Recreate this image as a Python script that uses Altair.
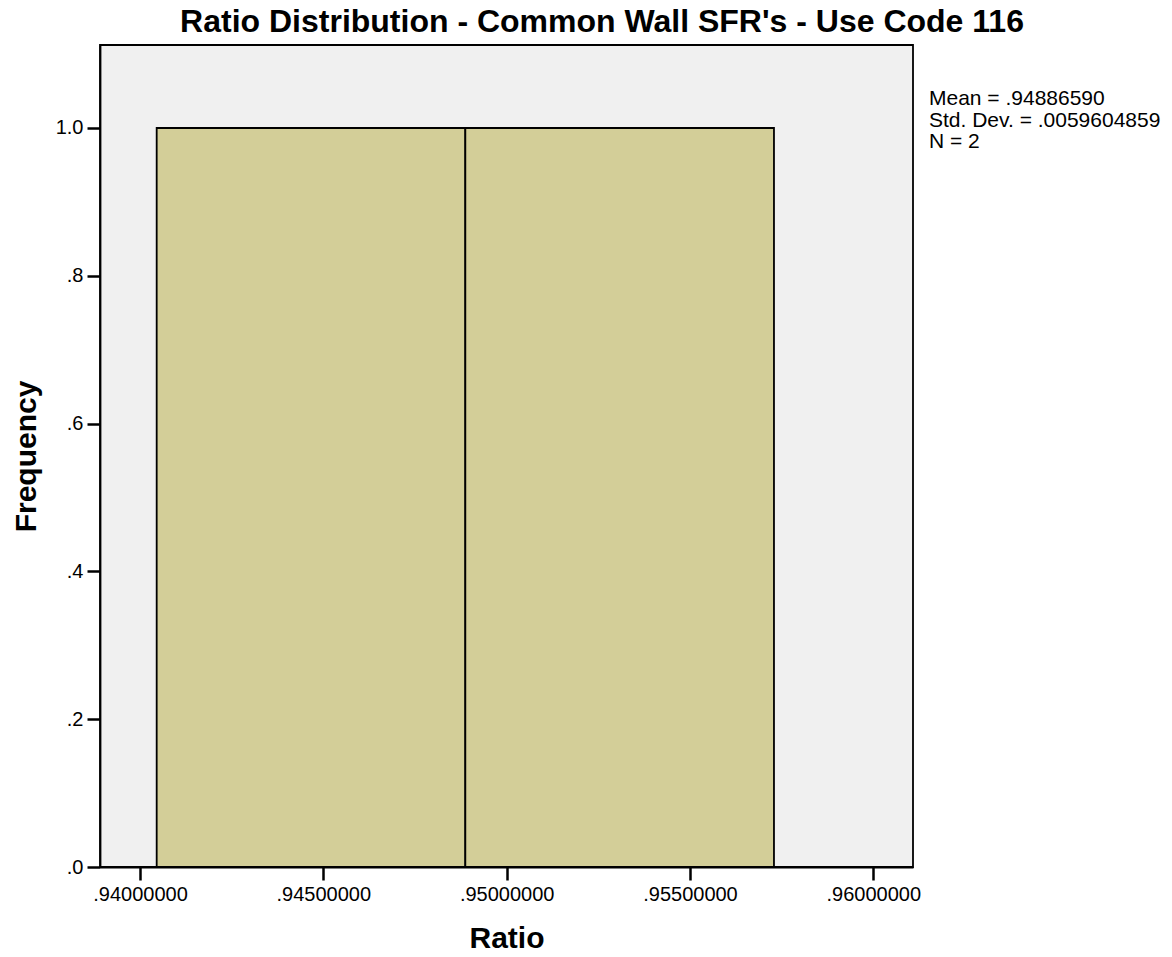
import altair as alt
import pandas as pd

# Data
bin_start = [0.940455, 0.948873]
bin_end = [0.948873, 0.957291]
frequency = [1, 1]

x_ticks = [0.94, 0.945, 0.95, 0.955, 0.96]
y_ticks = [0.0, 0.2, 0.4, 0.6, 0.8, 1.0]
stats_lines = ["Mean = .94886590", "Std. Dev. = .0059604859", "N = 2"]
title_text = "Ratio Distribution - Common Wall SFR's - Use Code 116"

FONT = "Liberation Sans"
W, H = 813, 822

bars_df = pd.DataFrame({"start": bin_start, "end": bin_end, "freq": frequency})

x_scale = alt.Scale(domain=[0.938909, 0.961083], nice=False, zero=False)
y_scale = alt.Scale(domain=[0, 1.1123], nice=False)

bars = alt.Chart(bars_df).mark_rect(
    fill="#D3CE98", stroke="black", strokeWidth=1.8
).encode(
    x=alt.X("start:Q", scale=x_scale,
            axis=alt.Axis(values=x_ticks, title="Ratio",
                          labelExpr="replace(format(datum.value, '.8f'), '0.', '.')",
                          titleX=W / 2, titleY=71, titleBaseline="middle")),
    x2="end:Q",
    y=alt.Y("freq:Q", scale=y_scale,
            axis=alt.Axis(values=y_ticks, title="Frequency",
                          labelExpr="datum.value == 1 ? '1.0' : replace(format(datum.value, '.1f'), '0.', '.')",
                          titleX=-74, titleY=H / 2, titleBaseline="middle")),
    y2=alt.Y2(datum=0),
)

stats = alt.Chart(pd.DataFrame({"t": ["\n".join(stats_lines)]})).mark_text(
    align="left", baseline="top", lineBreak="\n", lineHeight=21.5,
    font=FONT, fontSize=21, color="black"
).encode(
    x=alt.value(829), y=alt.value(43), text="t:N"
)

title = alt.Chart(pd.DataFrame({"t": [title_text]})).mark_text(
    align="center", baseline="alphabetic",
    font=FONT, fontSize=32, fontWeight="bold", color="black"
).encode(
    x=alt.value(502), y=alt.value(-13), text="t:N"
)

chart = alt.layer(bars, stats, title).properties(
    width=W, height=H,
    autosize=alt.AutoSizeParams(type="none"),
    padding={"left": 92, "top": 37, "right": 251, "bottom": 82},
).configure_view(
    fill="#F0F0F0", stroke="black", strokeWidth=1.8
).configure_axis(
    grid=False, domainColor="black", domainWidth=1.8,
    tickColor="black", tickWidth=2.5, tickSize=13,
    labelFont=FONT, labelFontSize=20, labelColor="black", labelPadding=4,
    titleFont=FONT, titleFontSize=30, titleFontWeight="bold", titleColor="black",
)

chart.save("out.html", embed_options={"renderer": "svg", "actions": False})
